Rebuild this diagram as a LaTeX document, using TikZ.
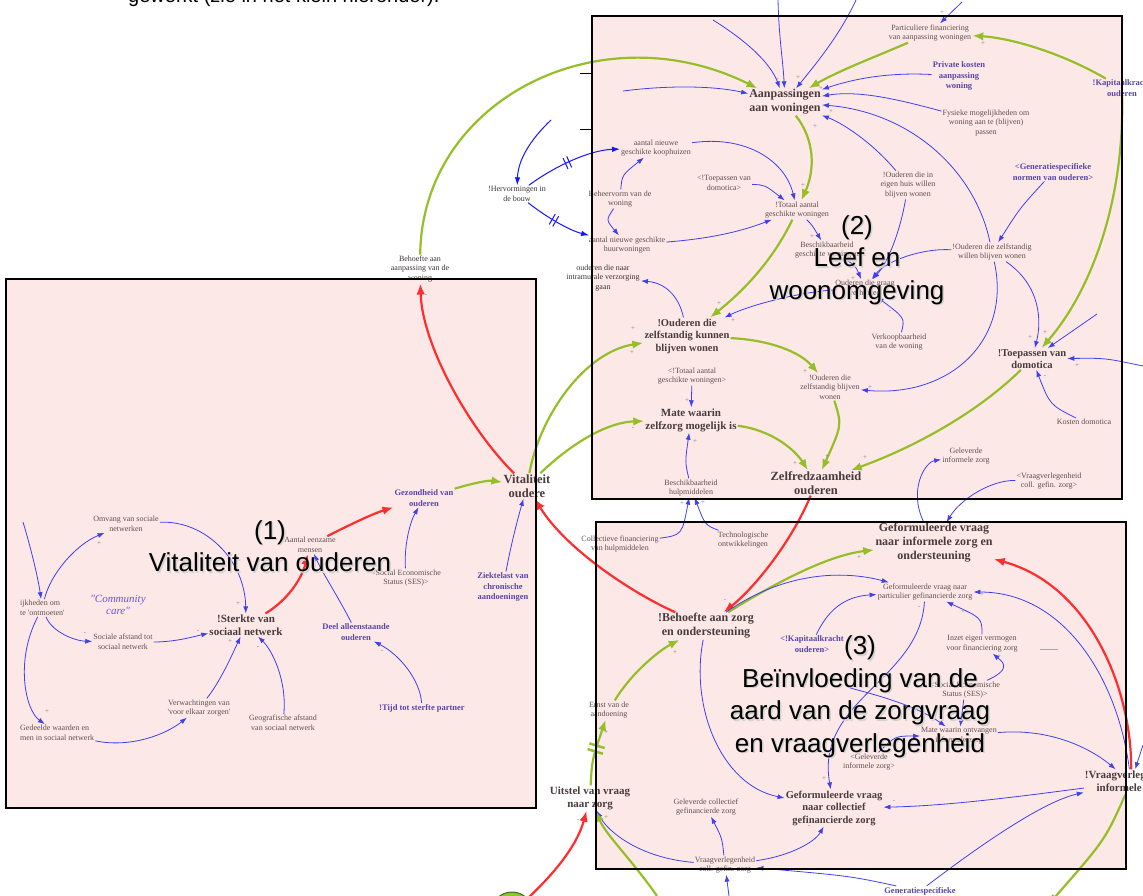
\documentclass[tikz,border=0pt]{standalone}
\usepackage{fontspec}
\setmainfont{Liberation Serif}[Ligatures=TeXOff]
\newfontfamily\sansf{Liberation Sans}
\usetikzlibrary{arrows.meta,decorations.markings}
\definecolor{pinkbg}{RGB}{253,232,232}
\definecolor{ablue}{RGB}{64,64,240}
\definecolor{ablue2}{RGB}{20,20,255}
\definecolor{agreen}{RGB}{150,190,40}
\definecolor{ared}{RGB}{255,45,45}
\definecolor{tgray}{RGB}{96,80,80}
\definecolor{tdark}{RGB}{60,52,52}
\definecolor{tvar}{RGB}{72,60,60}
\definecolor{tpurp}{RGB}{88,70,170}
\definecolor{tcomm}{RGB}{100,84,230}
\definecolor{circg}{RGB}{140,195,50}
\definecolor{circd}{RGB}{60,110,20}
\tikzset{
 lbl/.style={font=\fontsize{8}{9.6}\selectfont, text=tgray, align=center, inner sep=1pt},
 lbk/.style={lbl, text=tdark},
 var/.style={font=\fontsize{11}{13}\selectfont\bfseries, text=tvar, align=center, inner sep=1pt},
 vars/.style={font=\fontsize{10.5}{12.5}\selectfont\bfseries, text=tvar, align=center, inner sep=1pt},
 varl/.style={font=\fontsize{12}{14}\selectfont\bfseries, text=tvar, align=center, inner sep=1pt},
 pvar/.style={font=\fontsize{8.5}{10.3}\selectfont\bfseries, text=tpurp, align=center, inner sep=1pt},
 bigtxt/.style={font=\sansf\fontsize{26}{32.5}\selectfont, align=center, inner sep=0pt},
 pol/.style={font=\fontsize{7}{7}\selectfont, text=gray, inner sep=0pt},
 ba/.style={draw=ablue, line width=0.8pt, -{Latex[length=7pt,width=5pt]}},
 bb/.style={draw=ablue2, line width=1pt, -{Latex[length=8pt,width=5.5pt]}},
 ga/.style={draw=agreen, line width=2.2pt, -{Latex[length=11pt,width=8.5pt]}},
 ra/.style={draw=ared, line width=2.2pt, -{Latex[length=11pt,width=8.5pt]}},
 panelb/.style={draw=black, line width=2.2pt},
 bdelay/.style={postaction={decorate}, decoration={markings, mark=at position #1 with {\draw[ablue2, line width=1pt, -] (-2,-6)--(-2,6) (2,-6)--(2,6);}}},
 gdelay/.style={postaction={decorate}, decoration={markings, mark=at position #1 with {\draw[agreen, line width=2.5pt, -] (-3,-8)--(-3,8) (3,-8)--(3,8);}}},
}
\begin{document}
\begin{tikzpicture}[x=1pt,y=-1pt]
\useasboundingbox (0,0) rectangle (1143,896);
\clip (0,0) rectangle (1143,896);
% panel fills
\fill[pinkbg] (6,279) rectangle (536,808);
\fill[pinkbg] (592,16) rectangle (1122,499);
\fill[pinkbg] (596,522) rectangle (1126,869);

% top text (cut)
\node[font=\sansf\fontsize{20}{24}\selectfont, anchor=base west, inner sep=0] (toptxt) at (128,3) {gewerkt (zie in het klein hieronder).};

% ---------- box 1 nodes
\node[lbl] (omvang) at (126,524) {Omvang van sociale\\netwerken};
\node[lbl, anchor=west, align=left] (mogel) at (19,608) {ijkheden om\\te 'ontmoeten'};
\node[lbl] (socaf) at (123,642) {Sociale afstand tot\\sociaal netwerk};
\node[font=\fontsize{11}{12.5}\selectfont\itshape, text=tcomm, align=center, inner sep=1pt] (comm) at (118,605) {"Community\\care"};
\node[var] (sterkte) at (246,625) {!Sterkte van\\sociaal netwerk};
\node[lbl] (verw) at (199,708) {Verwachtingen van\\'voor elkaar zorgen'};
\node[lbl, anchor=west, align=left] (gedeeld) at (19,733) {Gedeelde waarden en\\men in sociaal netwerk};
\node[lbl] (geo) at (283,723) {Geografische afstand\\van sociaal netwerk};
\node[lbl] (eenzaam) at (310,545) {Aantal eenzame\\mensen};
\node[pvar] (gezond) at (424,498) {Gezondheid van\\ouderen};
\node[lbl] (ses1) at (406,578) {<Social Economische\\Status (SES)>};
\node[font=\fontsize{12.5}{14.3}\selectfont\bfseries, text=tvar, align=center, inner sep=1pt] (vital) at (527,486) {Vitaliteit\\oudere};
\node[pvar] (ziekte) at (503,587) {Ziektelast van\\chronische\\aandoeningen};
\node[pvar] (deel) at (356,632) {Deel alleenstaande\\ouderen};
\node[pvar] (tijd) at (422,708) {!Tijd tot sterfte partner};
\node[lbk] (behwon) at (420,269) {Behoefte aan\\aanpassing van de\\woning};

% ---------- box 2 nodes
\node[lbl] (partic) at (930,33) {Particuliere financiering\\van aanpassing woningen};
\node[pvar] (private) at (959,76) {Private kosten\\aanpassing\\woning};
\node[pvar] (kapitaal) at (1122,88) {!Kapitaalkracht\\ouderen};
\node[lbl] (fysiek) at (986,123) {Fysieke mogelijkheden om\\woning aan te (blijven)\\passen};
\node[varl] (aanpas) at (785,102) {Aanpassingen\\aan woningen};
\node[lbl] (koop) at (656,148) {aantal nieuwe\\geschikte koophuizen};
\node[lbl] (toepdom1) at (724,183) {<!Toepassen van\\domotica>};
\node[lbl] (totaal) at (797,210) {!Totaal aantal\\geschikte woningen};
\node[lbl] (beheer) at (620,199) {Beheervorm van de\\woning};
\node[lbl] (huur) at (627,245) {aantal nieuwe geschikte\\huurwoningen};
\node[lbk] (herv) at (517,194) {!Hervormingen in\\de bouw};
\node[lbk] (intra) at (603,278) {ouderen die naar\\intramurale verzorging\\gaan};
\node[lbl] (beschw) at (827,250) {Beschikbaarheid\\geschikte woningen};
\node[lbl] (graag) at (865,288) {Ouderen die graag\\verhuizen};
\node[lbl] (verkoop) at (899,342) {Verkoopbaarheid\\van de woning};
\node[lbl] (eigenhuis) at (908,185) {!Ouderen die in\\eigen huis willen\\blijven wonen};
\node[pvar] (gennorm) at (1053,172) {<Generatiespecifieke\\normen van ouderen>};
\node[lbl] (willen) at (992,252) {!Ouderen die zelfstandig\\willen blijven wonen};
\node[vars] (toepdom) at (1032,359) {!Toepassen van\\domotica};
\node[lbl] (kosten) at (1084,422) {Kosten domotica};
\node[vars] (kunnen) at (687,336) {!Ouderen die\\zelfstandig kunnen\\blijven wonen};
\node[lbl] (blijven) at (830,387) {!Ouderen die\\zelfstandig blijven\\wonen};
\node[lbl] (totaal2) at (692,376) {<!Totaal aantal\\geschikte woningen>};
\node[var] (mate) at (691,420) {Mate waarin\\zelfzorg mogelijk is};
\node[font=\fontsize{12.5}{14}\selectfont\bfseries, text=tvar, align=center, inner sep=1pt] (zelfred) at (816,483) {Zelfredzaamheid\\ouderen};
\node[lbl] (beschh) at (691,488) {Beschikbaarheid\\hulpmiddelen};
\node[lbl] (geleverd) at (966,456) {Geleverde\\informele zorg};
\node[lbl] (vraagv2) at (1049,481) {<Vraagverlegenheid\\coll. gefin. zorg>};
\node[lbl] (collfin) at (620,544) {Collectieve financiering\\van hulpmiddelen};
\node[lbl] (techno) at (743,540) {Technologische\\ontwikkelingen};

% ---------- box 3 nodes
\node[varl] (forminf) at (934,543) {Geformuleerde vraag\\naar informele zorg en\\ondersteuning};
\node[lbl] (formpart) at (925,592) {Geformuleerde vraag naar\\particulier gefinancierde zorg};
\node[pvar] (kap2) at (812,644) {<!Kapitaalkracht\\ouderen>};
\node[lbl] (inzet) at (982,644) {Inzet eigen vermogen\\voor financiering zorg};
\node[lbl] (ses2) at (965,690) {<Social Economische\\Status (SES)>};
\node[lbl] (ontv) at (959,736) {Mate waarin ontvangen\\informele zorg};
\node[lbl] (gelinf) at (869,762) {<Geleverde\\informele zorg>};
\node[var] (vraaginf) at (1131,782) {!Vraagverlegenheid\\informele zorg};
\node[vars] (formcol) at (834,808) {Geformuleerde vraag\\naar collectief\\gefinancierde zorg};
\node[lbl] (gelcol) at (706,807) {Geleverde collectief\\gefinancierde zorg};
\node[var] (uitstel) at (590,798) {Uitstel van vraag\\naar zorg};
\node[lbl] (ernst) at (609,710) {Ernst van de\\aandoening};
\node[varl] (behzorg) at (706,626) {!Behoefte aan zorg\\en ondersteuning};
\node[lbl] (vraagcol) at (725,865) {Vraagverlegenheid\\coll. gefin. zorg};
\node[pvar] (genbot) at (920,891) {Generatiespecifieke};
\node[circle, minimum size=42pt, fill=circg, draw=circd, line width=1pt] (circ) at (512,913) {};

% orphan ends
\coordinate (o1) at (23,522);
\coordinate (ot1) at (713,20);
\coordinate (ot2) at (778,0);
\coordinate (ot3) at (856,0);
\coordinate (ol1) at (623,91);
\coordinate (oh1) at (551,120);
\coordinate (otp) at (962,2);
\coordinate (or1) at (1097,314);
\coordinate (or2) at (1143,366);
\coordinate (or3) at (1143,745);
\coordinate (ob1) at (729,896);
\coordinate (ob2) at (657,896);
\coordinate (ob3) at (1048,905);
\coordinate (oc9) at (850,688);

% ---------- box 1 connectors
\draw[ba] (o1) .. controls (32,552) and (38,578) .. (mogel);
\draw[ba] (mogel) .. controls (50,575) and (75,545) .. (omvang);
\draw[ba] (omvang) .. controls (205,520) and (245,560) .. (sterkte);
\draw[ba] (mogel) .. controls (52,632) and (75,641) .. (socaf);
\draw[ba] (socaf) .. controls (175,642) and (192,637) .. (sterkte);
\draw[ba] (mogel) .. controls (15,660) and (25,710) .. (gedeeld);
\draw[ba] (gedeeld) .. controls (130,748) and (165,735) .. (verw);
\draw[ba] (verw) .. controls (220,682) and (232,655) .. (sterkte);
\draw[ba] (geo) .. controls (287,680) and (272,650) .. (sterkte);
\draw[ra] (sterkte) .. controls (288,600) and (302,578) .. (eenzaam);
\draw[ra] (eenzaam) .. controls (355,522) and (375,513) .. (gezond);
\draw[ba] (ses1) .. controls (404,545) and (410,522) .. (gezond);
\draw[ga] (gezond) .. controls (470,484) and (488,480) .. (vital);
\draw[ba] (ziekte) .. controls (512,540) and (518,518) .. (vital);
\draw[ba] (deel) .. controls (340,600) and (322,572) .. (eenzaam);
\draw[ba] (tijd) .. controls (420,680) and (400,655) .. (deel);
\draw[ra] (behzorg) .. controls (630,592) and (565,548) .. (vital);
\draw[ra] (vital) .. controls (470,430) and (422,345) .. (behwon);
\draw[ga] (vital) .. controls (540,415) and (585,352) .. (kunnen);
\draw[ga] (vital) .. controls (575,440) and (610,422) .. (mate);
\draw[ga] (behwon) .. controls (422,100) and (600,10) .. (aanpas);

% ---------- box 2 connectors
\draw[ba] (otp) -- (partic);
\draw[ga] (kapitaal) .. controls (1060,52) and (1010,38) .. (partic);
\draw[ga] (partic) .. controls (880,55) and (840,70) .. (aanpas);
\draw[ba] (private) .. controls (885,72) and (850,80) .. (aanpas);
\draw[ba] (fysiek) .. controls (900,100) and (860,90) .. (aanpas);
\draw[ba] (eigenhuis) .. controls (870,140) and (840,122) .. (aanpas);
\draw[ba] (willen) .. controls (975,170) and (910,112) .. (aanpas);
\draw[ba] (ot1) .. controls (745,40) and (770,62) .. (aanpas);
\draw[ba] (ot2) .. controls (779,40) and (783,60) .. (aanpas);
\draw[ba] (ot3) .. controls (840,35) and (815,65) .. (aanpas);
\draw[ba] (ol1) .. controls (670,85) and (715,86) .. (aanpas);
\draw[ga] (aanpas) .. controls (815,140) and (815,170) .. (totaal);
\draw[ba] (koop) .. controls (745,135) and (785,160) .. (totaal);
\draw[ba] (toepdom1) .. controls (765,185) .. (totaal);
\draw[ba] (beheer) .. controls (622,175) .. (koop);
\draw[ba] (beheer) .. controls (606,220) .. (huur);
\draw[ba] (huur) .. controls (720,238) and (750,228) .. (totaal);
\draw[bb] (oh1) .. controls (530,140) and (518,160) .. (herv);
\draw[bb, bdelay=0.45] (herv) .. controls (555,166) and (590,150) .. (koop);
\draw[bb, bdelay=0.45] (herv) .. controls (545,216) and (568,230) .. (huur);
\draw[ba] (kunnen) .. controls (680,300) and (668,283) .. (intra);
\draw[ba] (totaal) .. controls (812,225) .. (beschw);
\draw[ba] (beschw) .. controls (855,265) .. (graag);
\draw[ba] (willen) .. controls (920,248) and (885,262) .. (graag);
\draw[ba] (eigenhuis) .. controls (900,232) and (888,262) .. (graag);
\draw[ba] (graag) .. controls (800,292) and (750,305) .. (kunnen);
\draw[ba] (verkoop) .. controls (905,318) .. (graag);
\draw[ba] (gennorm) .. controls (1020,208) .. (willen);
\draw[ba] (willen) .. controls (1040,285) and (1042,320) .. (toepdom);
\draw[ba] (willen) .. controls (1012,340) and (950,398) .. (blijven);
\draw[ba] (or1) -- (toepdom);
\draw[ba] (or2) .. controls (1105,358) .. (toepdom);
\draw[ba] (kosten) .. controls (1050,405) .. (toepdom);
\draw[ga] (kapitaal) .. controls (1124,200) and (1092,290) .. (toepdom);
\draw[ga] (toepdom) .. controls (980,410) and (920,445) .. (zelfred);
\draw[ga] (blijven) .. controls (842,425) .. (zelfred);
\draw[ga] (kunnen) .. controls (770,340) and (800,352) .. (blijven);
\draw[ga] (totaal) .. controls (772,262) and (742,292) .. (kunnen);
\draw[ba] (totaal2) -- (mate);
\draw[ba] (beschh) .. controls (685,462) .. (mate);
\draw[ga] (mate) .. controls (772,430) and (795,450) .. (zelfred);
\draw[ba] (collfin) .. controls (682,535) .. (beschh);
\draw[ba] (techno) .. controls (705,525) .. (beschh);
\draw[ba] (forminf) .. controls (908,490) and (925,462) .. (geleverd);
\draw[ba] (vraagv2) .. controls (990,480) and (960,500) .. (forminf);
\draw[ra] (zelfred) .. controls (790,545) and (752,590) .. (behzorg);

% ---------- box 3 connectors
\draw[ga] (behzorg) .. controls (780,580) and (830,555) .. (forminf);
\draw[ba] (behzorg) .. controls (790,568) and (850,572) .. (formpart);
\draw[ba] (kap2) .. controls (830,605) and (850,596) .. (formpart);
\draw[ba] (vraaginf) .. controls (1118,680) and (1065,592) .. (formpart);
\draw[ra] (vraaginf) .. controls (1132,690) and (1090,585) .. (forminf);
\draw[ba] (inzet) .. controls (982,618) .. (formpart);
\draw[ba] (ses2) .. controls (1015,668) and (1000,660) .. (inzet);
\draw[ba] (formpart) .. controls (920,680) and (815,700) .. (formcol);
\draw[ba] (oc9) .. controls (885,697) and (920,708) .. (ontv);
\draw[ba] (ses2) -- (ontv);
\draw[ba] (gelinf) .. controls (895,736) .. (ontv);
\draw[ba] (ontv) .. controls (1050,728) and (1090,748) .. (vraaginf);
\draw[ba] (or3) -- (vraaginf);
\draw[ba] (vraaginf) .. controls (1030,795) and (950,806) .. (formcol);
\draw[ba] (behzorg) .. controls (690,705) and (720,785) .. (formcol);
\draw[ga, gdelay=0.55] (uitstel) .. controls (592,760) .. (ernst);
\draw[ga] (ernst) .. controls (632,672) and (660,650) .. (behzorg);
\draw[ba] (vraagcol) .. controls (722,838) .. (gelcol);
\draw[ba] (vraagcol) .. controls (790,856) and (815,842) .. (formcol);
\draw[ba] (vraagcol) .. controls (640,858) and (608,832) .. (uitstel);
\draw[ba] (genbot) .. controls (850,876) .. (vraagcol);
\draw[ba] (genbot) .. controls (1000,830) and (1050,800) .. (vraaginf);
\draw[ba] (ob1) -- (vraagcol);
\draw[ra] (circ) .. controls (560,868) and (578,842) .. (uitstel);
\draw[ga] (ob2) .. controls (632,860) and (606,835) .. (uitstel);
\draw[ga] (vraaginf) .. controls (1105,840) .. (ob3);

% polarity signs
\foreach \x/\y/\s [count=\i] in {99/544/+, 238/604/+, 230/642/+, 198/632/-, 258/648/-, 47/712/+, 85/634/-, 382/652/-, 426/296/-, 544/507/-,
 942/13/+, 983/44/+, 777/80/+, 798/78/+, 821/89/+, 831/112/+, 815/127/+, 752/88/+, 803/186/+, 812/237/+, 719/304/+, 733/321/+, 633/329/+, 853/279/+, 890/312/-,
 870/388/+, 1030/338/+, 1045/333/+, 1077/366/+, 1045/377/-, 865/458/+, 632/353/+, 805/372/+, 687/401/+, 633/429/-, 695/442/+, 827/457/+, 795/464/+, 682/504/+, 703/503/+,
 859/558/+, 725/601/-, 675/653/+, 1007/565/-, 982/595/+, 919/608/-, 963/612/+, 999/657/+, 606/733/+, 824/779/+, 894/802/-, 809/827/-, 578/821/-, 606/818/+}
 \node[pol] (pol\i) at (\x,\y) {\s};
\draw[gray!70, line width=0.5pt] (1040,649) -- (1058,649);

% panel borders
\draw[panelb] (6,279) rectangle (536,808);
\draw[panelb] (592,16) rectangle (1122,499);
\draw[panelb] (596,522) rectangle (1126,869);
\draw[black, line width=0.8pt] (580,73) -- (593,73);
\draw[black, line width=0.8pt] (580,129) -- (593,129);

% big labels (with faint shadow)
\node[bigtxt, text=gray!35] (b1s) at (271.5,547.5) {(1)\\Vitaliteit van ouderen};
\node[bigtxt] (b1) at (270,546) {(1)\\Vitaliteit van ouderen};
\node[bigtxt, text=gray!35] (b2s) at (858.5,261.5) {(2)\\Leef en\\woonomgeving};
\node[bigtxt] (b2) at (857,260) {(2)\\Leef en\\woonomgeving};
\node[bigtxt, text=gray!35] (b3s) at (861.5,698.5) {(3)\\Beïnvloeding van de\\aard van de zorgvraag\\en vraagverlegenheid};
\node[bigtxt] (b3) at (860,697) {(3)\\Beïnvloeding van de\\aard van de zorgvraag\\en vraagverlegenheid};
\end{tikzpicture}
\end{document}
